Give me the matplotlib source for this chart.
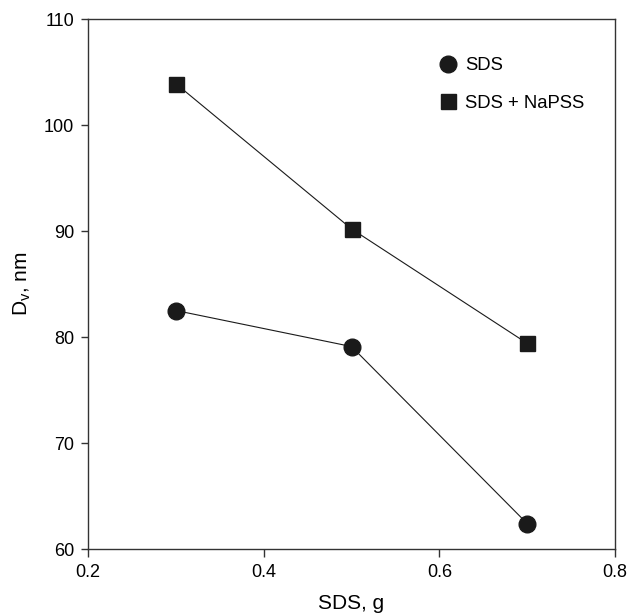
import matplotlib
matplotlib.use("Agg")
import matplotlib.pyplot as plt

plt.rcParams['font.family'] = ['Liberation Sans', 'DejaVu Sans']
plt.rcParams['mathtext.fontset'] = 'custom'
plt.rcParams['mathtext.rm'] = 'Liberation Sans'

sds_amount = [0.3, 0.5, 0.7]
dv_sds = [82.5, 79.1, 62.4]
dv_sds_napss = [103.9, 90.2, 79.4]

x_ticks = [0.2, 0.4, 0.6, 0.8]
y_ticks = [60, 70, 80, 90, 100, 110]

fig = plt.figure(figsize=(6.30, 6.13), dpi=100)
ax = fig.add_axes([0.1397, 0.1044, 0.8365, 0.8646])

ax.plot(sds_amount, dv_sds, color='#1a1a1a', lw=0.8, marker='o', ms=12,
        mfc='#1a1a1a', mec='#1a1a1a', label='SDS')
ax.plot(sds_amount, dv_sds_napss, color='#1a1a1a', lw=0.8, marker='s', ms=10.8,
        mfc='#1a1a1a', mec='#1a1a1a', label='SDS + NaPSS')

ax.set_xlim(0.2, 0.8)
ax.set_ylim(60, 110)
ax.set_xticks(x_ticks)
ax.set_yticks(y_ticks)
ax.set_xticklabels([f'{v:.1f}' for v in x_ticks])
ax.set_yticklabels([str(v) for v in y_ticks])

for s in ax.spines.values():
    s.set_linewidth(1.0)
    s.set_color('#333333')
ax.tick_params(direction='out', width=1.0, labelsize=13,
               colors='#333333', labelcolor='black')
ax.tick_params(axis='x', length=6, pad=5)
ax.tick_params(axis='y', length=5, pad=5)

ax.set_xlabel('SDS, g', fontsize=15, labelpad=9)
ax.set_ylabel(r'D$_\mathregular{v}$, nm', fontsize=15, labelpad=8)

leg = ax.legend(loc='upper left', bbox_to_anchor=(0.668, 0.928), frameon=False,
                fontsize=13.3, handlelength=0.9, handletextpad=0.44,
                labelspacing=1.11, borderpad=0, borderaxespad=0,
                markerscale=1.0)
for h in leg.legend_handles:
    h.set_linestyle('None')

fig.savefig('out.png', dpi=100)
